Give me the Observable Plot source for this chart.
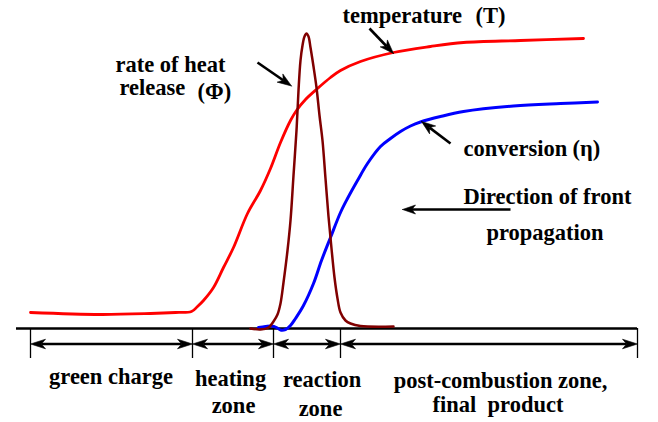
<!DOCTYPE html>
<html>
<head>
<meta charset="utf-8">
<script src="https://cdn.jsdelivr.net/npm/d3@7"></script>
<script src="https://cdn.jsdelivr.net/npm/@observablehq/plot@0.6"></script>
<style>
  html, body { margin: 0; padding: 0; background: #fff; }
  #chart svg text { font-family: "Liberation Serif", "Times New Roman", serif !important; font-weight: bold; }
</style>
</head>
<body>
<div id="chart"></div>
<script>
// Combustion wave profile: position along the sample vs. height above the baseline.

// temperature (T)
const tempPos = [30, 100, 150, 175, 191, 197, 203, 213, 223, 233, 247, 260, 270, 280, 290, 296, 305, 317, 330, 340, 360, 393, 430, 463, 520, 583];
const tempVal = [16, 14, 15, 16, 17, 22, 28, 41, 61, 81, 115, 138, 160, 186, 208, 218, 229, 240, 251, 258, 267, 276, 282, 286, 288, 290];

// rate of heat release (Φ)
const heatPos = [250, 260, 268, 273, 277, 280, 283, 287, 290, 293, 296, 298, 300, 302, 304, 306, 308, 310, 313, 316, 319, 322, 325, 328, 331, 334, 337, 340, 345, 350, 360, 393];
const heatVal = [0, -1, 1, 7, 14, 25, 46, 78, 108, 153, 198, 238, 268, 283, 292, 295, 292, 281, 262, 241, 213, 188, 150, 112, 80, 51, 30, 16, 8, 5, 2.5, 2];

// conversion (η)
const convPos = [258, 265, 271, 276, 280, 285, 290, 295, 303, 313, 321, 330, 340, 347, 357, 367, 380, 390, 400, 410, 420, 440, 463, 513, 560, 597];
const convVal = [1, 2, 2.5, 1, -1.5, -1, 3, 10, 23, 45, 68, 91, 116, 130, 148, 165, 182, 190, 197, 202.5, 206.5, 212, 217, 222.5, 225, 226.5];

// zone boundaries and names
const zoneBounds = [30, 192, 273, 340, 637];
const zoneNames = ["green charge", "heating zone", "reaction zone", "post-combustion zone, final product"];

const series = (pos, val, name) => pos.map((x, i) => ({name, x, y: val[i]}));
const temperature = series(tempPos, tempVal, "temperature");
const heat = series(heatPos, heatVal, "heat");
const conversion = series(convPos, convVal, "conversion");

// filled arrowhead with a notched back, pointing from (x1,y1) to the tip (x2,y2)
function arrowHead(id, x1, y1, x2, y2, len, half) {
  const d = Math.hypot(x2 - x1, y2 - y1);
  const ux = (x2 - x1) / d, uy = (y2 - y1) / d, nx = -uy, ny = ux;
  const bx = x2 - len * ux, by = y2 - len * uy;
  return [
    {id, x: x2, y: y2},
    {id, x: bx + half * nx, y: by + half * ny},
    {id, x: x2 - 0.72 * len * ux, y: y2 - 0.72 * len * uy},
    {id, x: bx - half * nx, y: by - half * ny},
    {id, x: x2, y: y2}
  ];
}
const notch = (x1, y1, x2, y2, len) => {
  const d = Math.hypot(x2 - x1, y2 - y1);
  return [x2 - 0.72 * len * (x2 - x1) / d, y2 - 0.72 * len * (y2 - y1) / d];
};

// callout arrows: tail -> tip on the curve
const callouts = [
  {id: "T", x1: 369, y1: 300, x2: 393, y2: 275, len: 14, half: 5},
  {id: "Phi", x1: 257, y1: 266, x2: 291, y2: 242.5, len: 14, half: 5},
  {id: "eta", x1: 450, y1: 185, x2: 421, y2: 207, len: 14, half: 5},
  {id: "dir", x1: 510, y1: 119, x2: 402, y2: 119, len: 13, half: 4.5}
];

// double-headed arrows spanning each zone
const zoneY = -15.5;
const zoneArrows = [];
zoneBounds.slice(0, -1).forEach((a, i) => {
  const b = zoneBounds[i + 1];
  zoneArrows.push({id: `z${i}r`, x1: a, y1: zoneY, x2: b, y2: zoneY, len: 15, half: 4.8});
  zoneArrows.push({id: `z${i}l`, x1: b, y1: zoneY, x2: a, y2: zoneY, len: 15, half: 4.8});
});

const heads = [...callouts, ...zoneArrows].flatMap(a => arrowHead(a.id, a.x1, a.y1, a.x2, a.y2, a.len, a.half));

const calloutShafts = callouts.map(a => {
  const [nx, ny] = notch(a.x1, a.y1, a.x2, a.y2, a.len);
  return {x1: a.x1, y1: a.y1, x2: nx, y2: ny};
});
const zoneShafts = zoneBounds.slice(0, -1).map((a, i) => {
  const b = zoneBounds[i + 1];
  return {x1: a + 0.72 * 15, y1: zoneY, x2: b - 0.72 * 15, y2: zoneY};
});

// text labels
const curveLabels = [
  {text: "temperature", x: 342, y: 306},
  {text: "(T)", x: 475, y: 306},
  {text: "rate of heat", x: 115, y: 257},
  {text: "release", x: 119, y: 233.5},
  {text: "(Φ)", x: 197, y: 229.5},
  {text: "conversion", x: 463, y: 173},
  {text: "(η)", x: 572, y: 173},
  {text: "Direction of front", x: 463, y: 125},
  {text: "propagation", x: 486, y: 89}
];
const zoneLabels = [
  {text: "green charge", x: 110.5, y: -55},
  {text: "heating", x: 230, y: -57},
  {text: "zone", x: 233, y: -84.3},
  {text: "reaction", x: 321.7, y: -58.7},
  {text: "zone", x: 320, y: -87},
  {text: "post-combustion zone,", x: 500, y: -59},
  {text: "final\u00a0\u00a0product", x: 497.5, y: -83.7}
];

const font = {fontFamily: "Liberation Serif", fontWeight: "bold", fontSize: 22.5, fill: "black", lineAnchor: "bottom"};

const chart = Plot.plot({
  width: 658,
  height: 422,
  margin: 0,
  x: {type: "linear", domain: [0, 658], range: [0, 658], axis: null},
  y: {type: "linear", domain: [-94, 328], range: [422, 0], axis: null},
  style: {background: "#fff"},
  marks: [
    // baseline and zone boundary ticks
    Plot.ruleY([0], {x1: 16, x2: 637, stroke: "black", strokeWidth: 2.5}),
    Plot.ruleX(zoneBounds, {y1: 0, y2: -30, stroke: "black", strokeWidth: 1.3}),
    // profiles
    Plot.line(temperature, {x: "x", y: "y", stroke: "#ff0000", strokeWidth: 2.8, curve: "catmull-rom"}),
    Plot.line(conversion, {x: "x", y: "y", stroke: "#0000ff", strokeWidth: 3, curve: "catmull-rom"}),
    Plot.line(heat, {x: "x", y: "y", stroke: "#800000", strokeWidth: 2.5, curve: "catmull-rom"}),
    // arrows
    Plot.link(calloutShafts, {x1: "x1", y1: "y1", x2: "x2", y2: "y2", stroke: "black", strokeWidth: 2.6}),
    Plot.link(zoneShafts, {x1: "x1", y1: "y1", x2: "x2", y2: "y2", stroke: "black", strokeWidth: 2.4}),
    Plot.line(heads, {x: "x", y: "y", z: "id", fill: "black", stroke: "black", strokeWidth: 0.6, curve: "linear"}),
    // labels
    Plot.text(curveLabels, {x: "x", y: "y", text: "text", textAnchor: "start", ...font}),
    Plot.text(zoneLabels, {x: "x", y: "y", text: "text", textAnchor: "middle", ...font})
  ]
});

document.getElementById("chart").appendChild(chart);
</script>
</body>
</html>
